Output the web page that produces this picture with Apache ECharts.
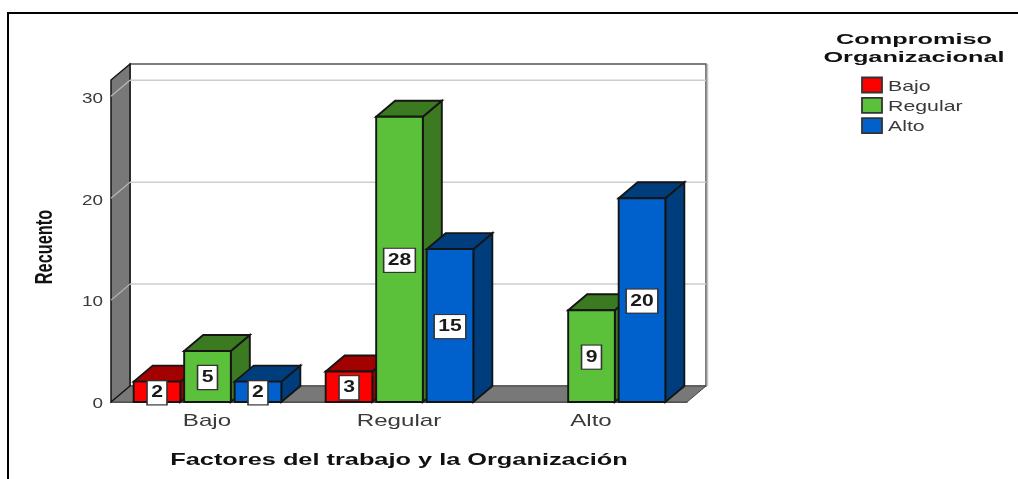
<!DOCTYPE html>
<html>
<head>
<meta charset="utf-8">
<style>html,body{margin:0;padding:0;background:#fff}#c{width:1018px;height:479px}</style>
<script src="https://cdn.jsdelivr.net/npm/echarts@6/dist/echarts.min.js"></script>
</head>
<body>
<div id="c"></div>
<script>
const categories = ['Bajo', 'Regular', 'Alto'];
const bajoValues = [2, 3, null];
const regularValues = [5, 28, 9];
const altoValues = [2, 15, 20];
const gridValues = [10, 20, 30];
const tickValues = [0, 10, 20, 30];
const axisMax = 31.6;
const seriesNames = ['Bajo', 'Regular', 'Alto'];
const frontColors = ['#ff0000', '#5cc13a', '#0061cc'];
const shadeColors = ['#a30000', '#3b7a20', '#003d7c'];
const xAxisTitle = 'Factores del trabajo y la Organización';
const yAxisTitle = 'Recuento';
const legendTitleLines = ['Compromiso', 'Organizacional'];

const DX = 19, DY = 16;
const OUTLINE = '#151515';
const FONT = '"Liberation Sans", Arial, sans-serif';

function poly(points, fill, stroke, lw) {
  return { type: 'polygon', shape: { points: points },
    style: { fill: fill, stroke: stroke || OUTLINE, lineWidth: lw == null ? 1.9 : lw } };
}

function wideText(text, x, y, font, scale, fill, align, extra) {
  return Object.assign({ type: 'text', x: x, y: y, scaleX: scale, silent: true,
    style: { text: text, align: align || 'center', verticalAlign: 'middle', font: font, fill: fill } }, extra || {});
}

function barRenderer(idx) {
  return function (params, api) {
    const v = api.value(1);
    if (v == null || isNaN(v)) return;
    const band = api.size([1, 0])[0];
    const center = api.coord([api.value(0), 0])[0];
    const pitch = band * 0.263, w = band * 0.243;
    const x0 = center + (idx - 1) * pitch - w / 2 + 0.5, x1 = x0 + w;
    const yB = api.coord([0, 0])[1], yT = api.coord([0, v])[1];
    return { type: 'group', children: [
      poly([[x1, yT], [x1 + DX, yT - DY], [x1 + DX, yB - DY], [x1, yB]], shadeColors[idx]),
      poly([[x0, yT], [x0 + DX, yT - DY], [x1 + DX, yT - DY], [x1, yT]], shadeColors[idx]),
      poly([[x0, yT], [x1, yT], [x1, yB], [x0, yB]], frontColors[idx]),
      { type: 'text', z2: 50, scaleX: 1.32,
        x: (x0 + x1) / 2, y: (yT + yB) / 2 + 1,
        style: { text: String(v), align: 'center', verticalAlign: 'middle',
          font: 'bold 16px ' + FONT, fill: '#1a1a1a',
          backgroundColor: '#fff', borderColor: '#333', borderWidth: 1.2,
          padding: [3.5, 2.5, 3.5, 2.5] } }
    ] };
  };
}

function frameRenderer(params, api) {
  const yB = api.coord([0, 0])[1];
  const yT = api.coord([0, axisMax])[1];
  const xL = api.coord([0, 0])[0] - api.size([1, 0])[0] / 2;
  const xR = xL + api.size([1, 0])[0] * categories.length;
  const wall = '#787878';
  return { type: 'group', children: [
    poly([[xL + DX, yT - DY], [xR + DX, yT - DY], [xR + DX, yB - DY], [xL + DX, yB - DY]], '#fff', '#555', 1.5),
    poly([[xL, yB], [xL + DX, yB - DY], [xR + DX, yB - DY], [xR, yB]], wall, '#444', 1),
    poly([[xL, yT], [xL + DX, yT - DY], [xL + DX, yB - DY], [xL, yB]], wall, OUTLINE, 1.5),
    { type: 'line', shape: { x1: xR + DX + 1.5, y1: yT - DY, x2: xR + DX + 1.5, y2: yB - DY },
      style: { stroke: '#c4c4c4', lineWidth: 1.5 } }
  ] };
}

function gridRenderer(params, api) {
  const y = api.coord([0, api.value(1)])[1];
  const xL = api.coord([0, 0])[0] - api.size([1, 0])[0] / 2;
  const xR = xL + api.size([1, 0])[0] * categories.length;
  return { type: 'group', children: [
    { type: 'line', shape: { x1: xL, y1: y, x2: xL + DX, y2: y - DY }, style: { stroke: '#b8b8b8', lineWidth: 1.2 } },
    { type: 'line', shape: { x1: xL + DX, y1: y - DY, x2: xR + DX, y2: y - DY }, style: { stroke: '#cdcdcd', lineWidth: 1.5 } }
  ] };
}

function xLabelRenderer(params, api) {
  const p = api.coord([api.value(0), 0]);
  return wideText(categories[api.value(0)], p[0], p[1] + 19, '17px ' + FONT, 1.42, '#3a3a3a');
}

function yLabelRenderer(params, api) {
  const p = api.coord([0, api.value(1)]);
  const xL = p[0] - api.size([1, 0])[0] / 2;
  return wideText(String(api.value(1)), xL - 8, p[1] + 2.5, '14px ' + FONT, 1.35, '#3a3a3a', 'right');
}

const valueLists = [bajoValues, regularValues, altoValues];
const barSeries = seriesNames.map((name, idx) => ({
  type: 'custom', name: name, z: 5 + idx,
  coordinateSystem: 'cartesian2d',
  itemStyle: { color: frontColors[idx] },
  encode: { x: 0, y: 1 },
  renderItem: barRenderer(idx),
  data: categories.map((c, i) => [i, valueLists[idx][i]])
}));

const legendGraphics = [];
legendTitleLines.forEach((line, i) => {
  legendGraphics.push(wideText(line, 914, 40 + i * 18, 'bold 15.5px ' + FONT, 1.63, '#111'));
});
seriesNames.forEach((name, i) => {
  const top = 77.5 + i * 20.3;
  legendGraphics.push({ type: 'rect', silent: true, shape: { x: 862, y: top, width: 20, height: 15 },
    style: { fill: frontColors[i], stroke: '#333', lineWidth: 1.8 } });
  legendGraphics.push(wideText(name, 888, top + 9, '15px ' + FONT, 1.42, '#3a3a3a', 'left'));
});

const chart = echarts.init(document.getElementById('c'), null, { renderer: 'canvas' });
chart.setOption({
  animation: false,
  backgroundColor: '#fff',
  grid: { left: 111, top: 80, width: 576, height: 322, outerBoundsMode: 'none' },
  xAxis: {
    type: 'category', data: categories,
    axisTick: { show: false },
    axisLine: { show: true, lineStyle: { color: '#333', width: 1.5 } },
    axisLabel: { show: false }
  },
  yAxis: {
    type: 'value', min: 0, max: axisMax, interval: 10,
    axisLine: { show: false }, axisTick: { show: false }, splitLine: { show: false },
    axisLabel: { show: false }
  },
  series: [
    { type: 'custom', name: 'frame', z: 1, renderItem: frameRenderer, encode: { x: 0, y: 1 }, data: [[0, 0]], silent: true },
    { type: 'custom', name: 'grid', z: 2, renderItem: gridRenderer, encode: { x: 0, y: 1 }, data: gridValues.map(v => [0, v]), silent: true },
    { type: 'custom', name: 'xLabels', z: 3, renderItem: xLabelRenderer, encode: { x: 0, y: 1 }, data: categories.map((c, i) => [i, 0]), silent: true },
    { type: 'custom', name: 'yLabels', z: 3, renderItem: yLabelRenderer, encode: { x: 0, y: 1 }, data: tickValues.map(v => [0, v]), silent: true }
  ].concat(barSeries),
  graphic: [
    { type: 'polyline', silent: true, shape: { points: [[8, 479], [8, 13], [1018, 13]] },
      style: { fill: null, stroke: '#000', lineWidth: 2 } },
    wideText(xAxisTitle, 399, 460, 'bold 17px ' + FONT, 1.49, '#111'),
    wideText(yAxisTitle, 45, 247, 'bold 24px ' + FONT, 0.68, '#111', 'center', { rotation: Math.PI / 2 })
  ].concat(legendGraphics)
});
</script>
</body>
</html>
